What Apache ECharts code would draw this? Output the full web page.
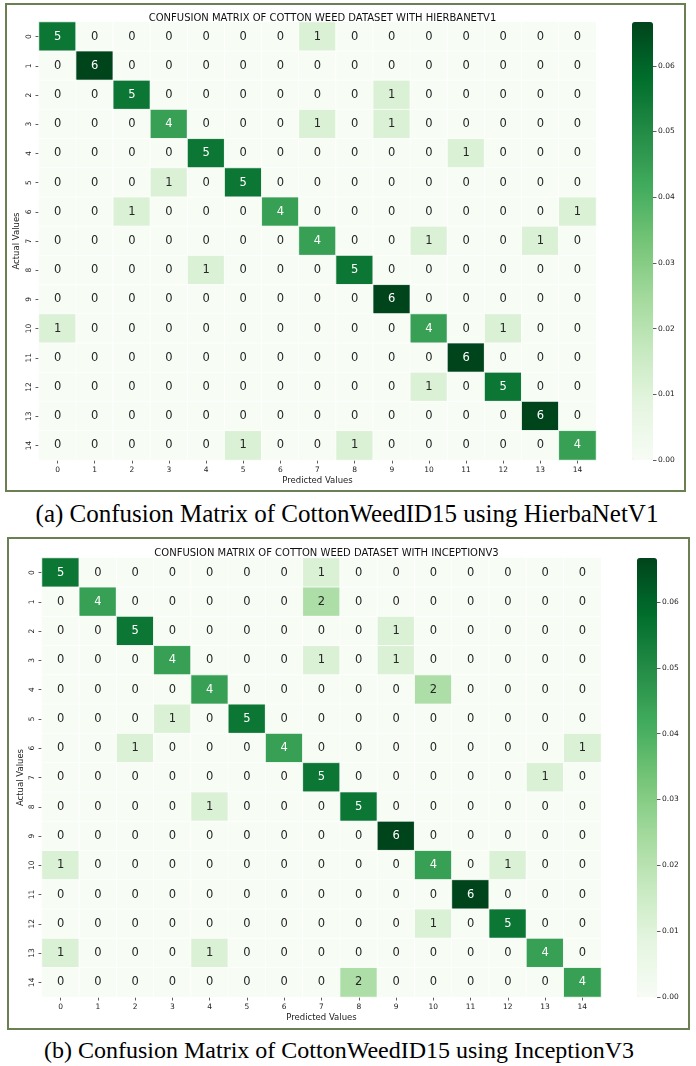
<!DOCTYPE html>
<html>
<head>
<meta charset="utf-8">
<script src="https://cdn.jsdelivr.net/npm/echarts@6/dist/echarts.min.js"></script>
<style>
  html, body { margin: 0; padding: 0; background: #fff; }
  .box { position: absolute; box-sizing: border-box; border: 2px solid #6a7f52; }
  .caption {
    position: absolute; width: 696px; text-align: center;
    font-family: 'Liberation Serif', 'DejaVu Serif', serif; color: #000;
    line-height: 28px;
  }
  #chart { position: absolute; left: 0; top: 0; width: 696px; height: 1066px; }
</style>
</head>
<body>
<div class="box" style="left:5px;top:3px;width:681px;height:489px"></div>
<div class="box" style="left:7px;top:537px;width:683px;height:493px"></div>
<div class="caption" style="left:-1px;top:500px;font-size:25px">(a) Confusion Matrix of CottonWeedID15 using HierbaNetV1</div>
<div class="caption" style="left:-9px;top:1036px;font-size:24px">(b) Confusion Matrix of CottonWeedID15 using InceptionV3</div>
<div id="chart"></div>
<script>
const classLabels = ['0', '1', '2', '3', '4', '5', '6', '7', '8', '9', '10', '11', '12', '13', '14']

// rows = actual class, columns = predicted class
const hierbaNetCounts = [
  [5, 0, 0, 0, 0, 0, 0, 1, 0, 0, 0, 0, 0, 0, 0],
  [0, 6, 0, 0, 0, 0, 0, 0, 0, 0, 0, 0, 0, 0, 0],
  [0, 0, 5, 0, 0, 0, 0, 0, 0, 1, 0, 0, 0, 0, 0],
  [0, 0, 0, 4, 0, 0, 0, 1, 0, 1, 0, 0, 0, 0, 0],
  [0, 0, 0, 0, 5, 0, 0, 0, 0, 0, 0, 1, 0, 0, 0],
  [0, 0, 0, 1, 0, 5, 0, 0, 0, 0, 0, 0, 0, 0, 0],
  [0, 0, 1, 0, 0, 0, 4, 0, 0, 0, 0, 0, 0, 0, 1],
  [0, 0, 0, 0, 0, 0, 0, 4, 0, 0, 1, 0, 0, 1, 0],
  [0, 0, 0, 0, 1, 0, 0, 0, 5, 0, 0, 0, 0, 0, 0],
  [0, 0, 0, 0, 0, 0, 0, 0, 0, 6, 0, 0, 0, 0, 0],
  [1, 0, 0, 0, 0, 0, 0, 0, 0, 0, 4, 0, 1, 0, 0],
  [0, 0, 0, 0, 0, 0, 0, 0, 0, 0, 0, 6, 0, 0, 0],
  [0, 0, 0, 0, 0, 0, 0, 0, 0, 0, 1, 0, 5, 0, 0],
  [0, 0, 0, 0, 0, 0, 0, 0, 0, 0, 0, 0, 0, 6, 0],
  [0, 0, 0, 0, 0, 1, 0, 0, 1, 0, 0, 0, 0, 0, 4],
]

const inceptionCounts = [
  [5, 0, 0, 0, 0, 0, 0, 1, 0, 0, 0, 0, 0, 0, 0],
  [0, 4, 0, 0, 0, 0, 0, 2, 0, 0, 0, 0, 0, 0, 0],
  [0, 0, 5, 0, 0, 0, 0, 0, 0, 1, 0, 0, 0, 0, 0],
  [0, 0, 0, 4, 0, 0, 0, 1, 0, 1, 0, 0, 0, 0, 0],
  [0, 0, 0, 0, 4, 0, 0, 0, 0, 0, 2, 0, 0, 0, 0],
  [0, 0, 0, 1, 0, 5, 0, 0, 0, 0, 0, 0, 0, 0, 0],
  [0, 0, 1, 0, 0, 0, 4, 0, 0, 0, 0, 0, 0, 0, 1],
  [0, 0, 0, 0, 0, 0, 0, 5, 0, 0, 0, 0, 0, 1, 0],
  [0, 0, 0, 0, 1, 0, 0, 0, 5, 0, 0, 0, 0, 0, 0],
  [0, 0, 0, 0, 0, 0, 0, 0, 0, 6, 0, 0, 0, 0, 0],
  [1, 0, 0, 0, 0, 0, 0, 0, 0, 0, 4, 0, 1, 0, 0],
  [0, 0, 0, 0, 0, 0, 0, 0, 0, 0, 0, 6, 0, 0, 0],
  [0, 0, 0, 0, 0, 0, 0, 0, 0, 0, 1, 0, 5, 0, 0],
  [1, 0, 0, 0, 1, 0, 0, 0, 0, 0, 0, 0, 0, 4, 0],
  [0, 0, 0, 0, 0, 0, 0, 0, 2, 0, 0, 0, 0, 0, 4],
]

const colorbarTicks = [0, 0.01, 0.02, 0.03, 0.04, 0.05, 0.06]

const titles = [
  'CONFUSION MATRIX OF COTTON WEED DATASET WITH HIERBANETV1',
  'CONFUSION MATRIX OF COTTON WEED DATASET WITH INCEPTIONV3',
]

// matplotlib "Greens"
const greens = ['#f7fcf5', '#e5f5e0', '#c7e9c0', '#a1d99b', '#74c476', '#41ab5d', '#238b45', '#006d2c', '#00441b']
const font = 'DejaVu Sans'

const panels = [
  { counts: hierbaNetCounts, grid: { left: 39, top: 22, width: 557, height: 438 }, bar: { left: 632, width: 21 }, nameGapY: 18, titleTop: 8 },
  { counts: inceptionCounts, grid: { left: 42, top: 558, width: 559, height: 439 }, bar: { left: 637, width: 20 }, nameGapY: 17, titleTop: 543 },
]

const buildData = (counts) => {
  const total = counts.flat().reduce((a, b) => a + b, 0)
  const maxCount = Math.max(...counts.flat())
  const data = []
  counts.forEach((row, r) => {
    row.forEach((count, c) => {
      data.push({
        value: [c, r, count / total, count],
        label: { color: count / maxCount > 0.5 ? '#ffffff' : '#262626' },
      })
    })
  })
  return { data, vmax: maxCount / total }
}

const option = {
  animation: false,
  title: [], grid: [], xAxis: [], yAxis: [], visualMap: [], series: [],
}

panels.forEach((p, i) => {
  const { data, vmax } = buildData(p.counts)
  const g = p.grid
  option.title.push({
    text: titles[i],
    left: g.left + g.width / 2,
    textAlign: 'center',
    top: p.titleTop,
    textStyle: { fontFamily: font, fontSize: 10, fontWeight: 'normal', color: '#111' },
  })
  option.grid.push({ ...g })
  option.grid.push({ left: p.bar.left, top: g.top, width: p.bar.width, height: g.height })

  option.xAxis.push({
    gridIndex: 2 * i,
    type: 'category',
    data: classLabels,
    position: 'bottom',
    axisLine: { show: false },
    axisTick: { show: true, alignWithLabel: true, length: 3.5, lineStyle: { color: '#333', width: 0.8 } },
    axisLabel: { fontFamily: font, fontSize: 7.5, color: '#222', margin: 6 },
    splitLine: { show: false },
    name: 'Predicted Values',
    nameLocation: 'middle',
    nameGap: 16,
    nameMoveOverlap: false,
    nameTextStyle: { fontFamily: font, fontSize: 8.5, color: '#222' },
  })
  option.xAxis.push({ gridIndex: 2 * i + 1, type: 'category', data: [''], show: false })

  option.yAxis.push({
    gridIndex: 2 * i,
    type: 'category',
    data: classLabels,
    inverse: true,
    axisLine: { show: false },
    axisTick: { show: true, alignWithLabel: true, length: 3.5, lineStyle: { color: '#333', width: 0.8 } },
    axisLabel: { fontFamily: font, fontSize: 7.5, color: '#222', margin: 6, rotate: 90 },
    splitLine: { show: false },
    name: 'Actual Values',
    nameLocation: 'middle',
    nameGap: p.nameGapY,
    nameMoveOverlap: false,
    nameTextStyle: { fontFamily: font, fontSize: 8.5, color: '#222' },
  })
  option.yAxis.push({
    gridIndex: 2 * i + 1,
    type: 'value',
    min: 0,
    max: vmax,
    position: 'right',
    axisLine: { show: false, onZero: false },
    axisTick: { show: true, length: 3.5, customValues: colorbarTicks, lineStyle: { color: '#333', width: 0.8 } },
    axisLabel: {
      customValues: colorbarTicks,
      formatter: (v) => v.toFixed(2),
      fontFamily: font, fontSize: 7.5, color: '#222', margin: 5,
    },
    splitLine: { show: false },
  })

  option.visualMap.push({
    type: 'continuous',
    seriesIndex: i,
    dimension: 2,
    min: 0,
    max: vmax,
    inRange: { color: greens },
    orient: 'vertical',
    left: p.bar.left,
    top: g.top,
    itemWidth: p.bar.width,
    itemHeight: g.height,
    padding: 0,
    calculable: false,
    hoverLink: false,
    indicatorSize: 0,
    text: null,
  })

  option.series.push({
    type: 'heatmap',
    xAxisIndex: 2 * i,
    yAxisIndex: 2 * i,
    data,
    label: {
      show: true,
      formatter: (params) => params.value[3],
      fontFamily: font,
      fontSize: 11.5,
    },
    itemStyle: { borderColor: '#ffffff', borderWidth: 0.8 },
    emphasis: { disabled: true },
  })
})

const chart = echarts.init(document.getElementById('chart'))
chart.setOption(option)
</script>
</body>
</html>
